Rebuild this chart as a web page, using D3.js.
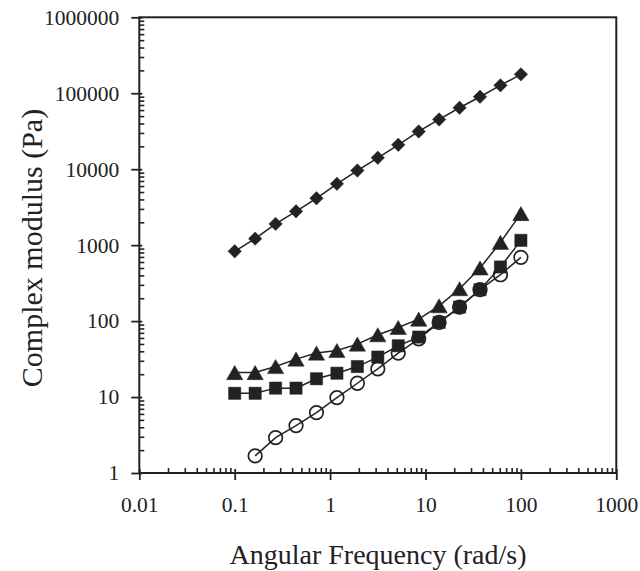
<!DOCTYPE html>
<html>
<head>
<meta charset="utf-8">
<script src="https://cdn.jsdelivr.net/npm/d3@7"></script>
<style>
  html, body { margin: 0; padding: 0; background: #fff; }
  svg { display: block; }
  text { font-family: "Liberation Serif", "Times New Roman", serif; fill: #222; }
</style>
</head>
<body>
<svg id="chart" width="640" height="571"></svg>
<script>
// ---- data ----
const frequency = [0.1, 0.1638, 0.2683, 0.4394, 0.7197, 1.179, 1.931, 3.162, 5.179, 8.483, 13.89, 22.76, 37.28, 61.05, 100];
const diamondSeries = [829, 1218, 1905, 2791, 4143, 6415, 9610, 14120, 20950, 31400, 45200, 64400, 90000, 127000, 177400];
const triangleSeries = [21.0, 21.0, 25.2, 31.6, 37.9, 41.0, 49.8, 66.1, 82.4, 106, 159, 267, 500, 1089, 2604];
const squareSeries = [11.2, 11.2, 13.1, 13.1, 17.4, 20.6, 25.2, 33.6, 47.3, 61.6, 96, 153, 259, 516, 1157];
const circleFrequency = frequency.slice(1);
const circleSeries = [1.68, 2.92, 4.21, 6.24, 9.84, 15.2, 23.5, 37.9, 58.5, 96, 153, 259, 408, 691];
const xTickLabels = ["0.01", "0.1", "1", "10", "100", "1000"];
const yTickLabels = ["1", "10", "100", "1000", "10000", "100000", "1000000"];
const xTitle = "Angular Frequency (rad/s)";
const yTitle = "Complex modulus (Pa)";

// ---- layout ----
const L = 139.3, R = 616.3, T = 17.3, B = 473;
const ink = "#222";
const svg = d3.select("#chart");

const x = d3.scaleLog().domain([0.01, 1000]).range([L, R]);
const y = d3.scaleLog().domain([1, 1e6]).range([B, T]);

const xMajor = xTickLabels.map(Number);
const yMajor = yTickLabels.map(Number);
function minors(majors) {
  const out = [];
  for (let i = 0; i < majors.length - 1; i++)
    for (let k = 2; k <= 9; k++) out.push(majors[i] * k);
  return out;
}

// minor ticks (inward)
svg.append("g").attr("transform", `translate(0,${B})`)
  .call(d3.axisTop(x).tickValues(minors(xMajor)).tickSizeInner(5).tickSizeOuter(0).tickFormat(""))
  .call(g => g.select(".domain").remove())
  .call(g => g.selectAll("line").attr("stroke", ink).attr("stroke-width", 1.6));
svg.append("g").attr("transform", `translate(${L},0)`)
  .call(d3.axisRight(y).tickValues(minors(yMajor)).tickSizeInner(5).tickSizeOuter(0).tickFormat(""))
  .call(g => g.select(".domain").remove())
  .call(g => g.selectAll("line").attr("stroke", ink).attr("stroke-width", 1.6));

// major x axis
const gx = svg.append("g").attr("transform", `translate(0,${B})`)
  .call(d3.axisBottom(x).tickValues(xMajor).tickSizeInner(7).tickSizeOuter(0).tickPadding(17)
    .tickFormat((d, i) => xTickLabels[i]));
gx.select(".domain").remove();
gx.selectAll("line").attr("y1", -4).attr("stroke", ink).attr("stroke-width", 1.8);
gx.selectAll("text").attr("font-size", 21.5).attr("font-family", "Liberation Serif").attr("fill", ink);

// major y axis
const gy = svg.append("g").attr("transform", `translate(${L},0)`)
  .call(d3.axisLeft(y).tickValues(yMajor).tickSizeInner(8).tickSizeOuter(0).tickPadding(12)
    .tickFormat((d, i) => yTickLabels[i]));
gy.select(".domain").remove();
gy.selectAll("line").attr("x1", 3).attr("stroke", ink).attr("stroke-width", 1.8);
gy.selectAll("text").attr("font-size", 21.5).attr("font-family", "Liberation Serif").attr("fill", ink);

// frame
svg.append("rect").attr("x", L).attr("y", T).attr("width", R - L).attr("height", B - T)
  .attr("fill", "none").attr("stroke", ink).attr("stroke-width", 2);

// titles
svg.append("text").attr("x", 378).attr("y", 564).attr("text-anchor", "middle")
  .attr("font-size", 28).text(xTitle);
svg.append("text").attr("transform", "translate(42,248) rotate(-90)").attr("text-anchor", "middle")
  .attr("font-size", 30).text(yTitle);

// ---- series ----
const line = d3.line().x(d => x(d[0])).y(d => y(d[1]));
const zip = (xs, ys) => xs.map((v, i) => [v, ys[i]]);

const triType = { draw(ctx, size) {
  const w = Math.sqrt(size * 4 / Math.sqrt(3));
  const h = w * Math.sqrt(3) / 2;
  ctx.moveTo(0, -h / 2); ctx.lineTo(w / 2, h / 2); ctx.lineTo(-w / 2, h / 2); ctx.closePath();
}};

const series = [
  { xs: frequency, ys: diamondSeries, sym: d3.symbolDiamond2, size: 115, fill: ink },
  { xs: frequency, ys: triangleSeries, sym: triType, size: 115, fill: ink },
  { xs: frequency, ys: squareSeries, sym: d3.symbolSquare, size: 150, fill: ink },
  { xs: circleFrequency, ys: circleSeries, sym: d3.symbolCircle, size: 145, fill: "none" }
];

series.forEach(s => {
  const pts = zip(s.xs, s.ys);
  svg.append("path").datum(pts).attr("d", line)
    .attr("fill", "none").attr("stroke", ink).attr("stroke-width", 1.5);
  svg.append("g").selectAll("path").data(pts).join("path")
    .attr("transform", d => `translate(${x(d[0])},${y(d[1])})`)
    .attr("d", d3.symbol(s.sym, s.size))
    .attr("fill", s.fill)
    .attr("stroke", ink)
    .attr("stroke-width", s.fill === "none" ? 1.7 : 0.5);
});
</script>
</body>
</html>
